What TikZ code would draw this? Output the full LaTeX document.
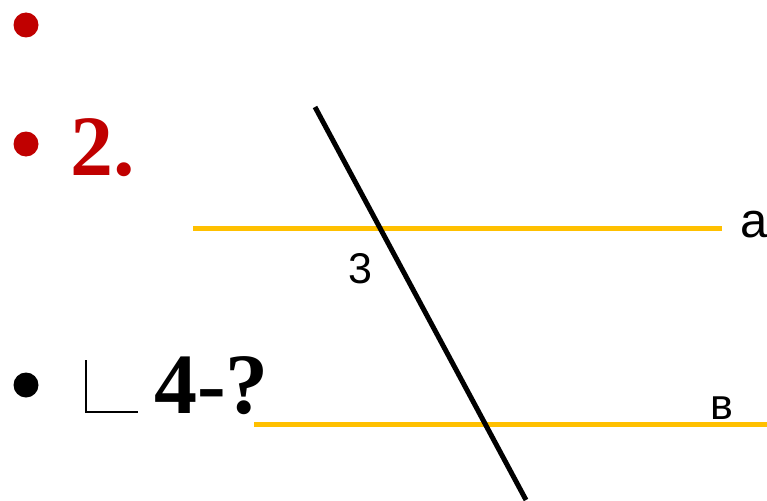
\documentclass[tikz,border=0pt]{standalone}
\usepackage{fontspec}
\setmainfont{Liberation Serif}
\newfontfamily\lsans{Liberation Sans}
\definecolor{bred}{HTML}{C00000}
\definecolor{lyel}{HTML}{FFC000}
\begin{document}
\begin{tikzpicture}[x=1pt,y=-1pt,
  yline/.style={draw=lyel,line width=5pt},
  bline/.style={draw=black,line width=5pt},
  bigtxt/.style={inner sep=0pt,anchor=base west,font=\fontsize{86}{90}\selectfont\bfseries},
  lbl/.style={inner sep=0pt,anchor=base west,font=\lsans\fontsize{43}{46}\selectfont},
  dot/.style={circle,inner sep=0pt,minimum size=25pt}]
\useasboundingbox (0,0) rectangle (767,500);
\fill[white] (0,0) rectangle (767,500);
% bullets
\node[dot,fill=bred] (b1) at (26,25) {};
\node[dot,fill=bred] (b2) at (26,144) {};
\node[dot,fill=black] (b3) at (26,385) {};
\node[bigtxt,text=bred] (t2) at (70,175) {2.};
% angle symbol
\coordinate (ang1) at (86,360);
\coordinate (ang2) at (86,412);
\coordinate (ang3) at (138,412);
\draw[line width=2pt] (ang1) -- (ang2) -- (ang3);
\node[bigtxt] (t4) at (154,413) {4-?};
% lines
\coordinate (a1) at (193,228);
\coordinate (a2) at (722,228);
\coordinate (c1) at (254,424);
\coordinate (c2) at (767,424);
\coordinate (s1) at (315,107);
\coordinate (s2) at (526,500);
\draw[yline] (a1) -- (a2);
\draw[yline] (c1) -- (c2);
\draw[bline] (s1) -- (s2);
% labels
\node[lbl,font=\lsans\fontsize{49}{52}\selectfont] (la) at (740,237) {a};
\node[lbl] (l3) at (348,283) {3};
\node[lbl] (lb) at (710,419) {в};
\end{tikzpicture}
\end{document}
